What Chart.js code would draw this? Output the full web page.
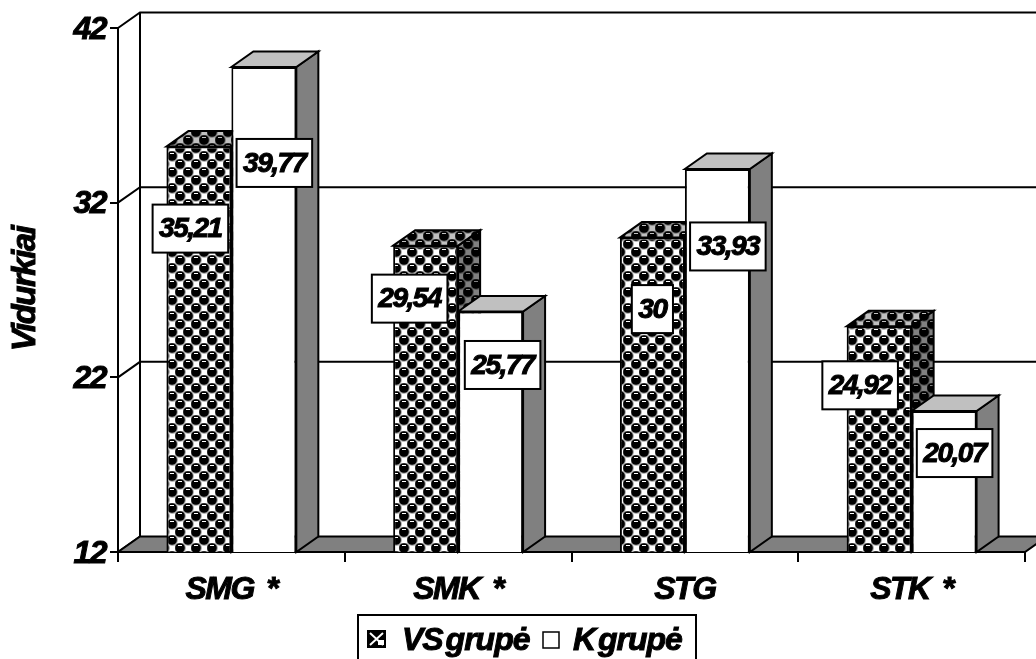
<!DOCTYPE html>
<html lang="lt">

<head>
  <meta charset="UTF-8">
  <title>Vidurkiai</title>
  <style>
    * {
      margin: 0;
      padding: 0;
    }

    body {
      background: white;
      overflow: hidden;
    }

    canvas {
      display: block;
    }
  </style>
</head>

<body>
  <canvas id="myChart" width="1036" height="659"></canvas>
  <script src="https://cdn.jsdelivr.net/npm/chart.js@4"></script>
  <script>
    const categories = ["SMG *", "SMK *", "STG", "STK *"];
    const seriesNames = ["VS grupė", "K grupė"];
    const vsValues = [35.21, 29.54, 30, 24.92];
    const kValues = [39.77, 25.77, 33.93, 20.07];
    const yMin = 12;
    const yMax = 42;
    const yStep = 10;
    const yTitle = "Vidurkiai";

    // hand placed value boxes, px from bar centre / bar top (one row per series)
    const boxShiftX = [[-8.5, -16, 0, -19], [10.5, 12, 10.5, 10.5]];
    const boxShiftY = [[82, 53, 71.5, 59], [96, 53.5, 77.5, 42]];

    const fontFamily = "'Liberation Sans', Arial, sans-serif";
    const depthX = 22;
    const depthY = 15.5;

    let ballPattern = () => {
      const tile = document.createElement("canvas");
      tile.width = 16;
      tile.height = 16;
      const c = tile.getContext("2d");
      c.fillStyle = "#fff";
      c.fillRect(0, 0, 16, 16);
      [[4, 4], [12, 12], [20, 4], [-4, 12], [4, 20], [12, -4]].forEach(([x, y]) => {
        c.fillStyle = "#999";
        c.beginPath();
        c.arc(x, y, 5.8, 0, Math.PI * 2);
        c.fill();
        c.fillStyle = "#000";
        c.beginPath();
        c.arc(x, y, 4.8, 0, Math.PI * 2);
        c.fill();
        c.fillStyle = "#fff";
        c.fillRect(x - 2, y - 3, 4, 1);
      });
      // white squares in the gaps
      c.fillStyle = "#fff";
      c.fillRect(10, 2, 5, 5);
      c.fillRect(2, 10, 5, 5);
      return tile;
    };

    const ctx = document.getElementById("myChart").getContext("2d");
    const pattern = ctx.createPattern(ballPattern(), "repeat");

    let poly = (c, pts, fill, tint) => {
      c.beginPath();
      pts.forEach((p, i) => (i ? c.lineTo(p[0], p[1]) : c.moveTo(p[0], p[1])));
      c.closePath();
      c.fillStyle = fill;
      c.fill();
      if (tint) {
        c.globalCompositeOperation = "multiply";
        c.fillStyle = tint;
        c.fill();
        c.globalCompositeOperation = "source-over";
      }
      c.stroke();
    };

    // canvas text with a thin outline, the reference type is very heavy
    let heavyText = (c, text, x, y) => {
      c.lineWidth = 1;
      c.strokeText(text, x, y);
      c.fillText(text, x, y);
    };

    const chart3d = {
      id: "chart3d",
      beforeDraw(chart) {
        chart.ctx.letterSpacing = "-1.5px";
        chart.ctx.wordSpacing = "5px";
      },
      beforeDatasetsDraw(chart) {
        const c = chart.ctx;
        const { left, right, top, bottom } = chart.chartArea;
        c.save();
        c.strokeStyle = "#000";
        c.lineWidth = 2;

        // back wall with gridlines
        chart.scales.y.ticks.forEach(t => {
          const y = chart.scales.y.getPixelForValue(t.value);
          c.beginPath();
          c.moveTo(left, y);
          c.lineTo(left + depthX, y - depthY);
          if (t.value > yMin) {
            c.lineTo(chart.width, y - depthY);
          }
          c.stroke();
        });
        c.beginPath();
        c.moveTo(left + depthX, top - depthY);
        c.lineTo(left + depthX, bottom - depthY);
        c.stroke();

        // floor
        poly(c, [[left, bottom], [right, bottom], [right + depthX, bottom - depthY], [left + depthX, bottom - depthY]], "#808080");

        // top and side faces, series by series so K tops lie over VS sides
        chart.data.datasets.forEach((ds, i) => {
          const isVs = i === 0;
          chart.getDatasetMeta(i).data.forEach(bar => {
            const x0 = bar.x - bar.width / 2;
            const x1 = bar.x + bar.width / 2;
            poly(c, [[x1, bar.y], [x1 + depthX, bar.y - depthY], [x1 + depthX, bottom - depthY], [x1, bottom]],
              isVs ? pattern : "#808080", isVs ? "#808080" : null);
            poly(c, [[x0, bar.y], [x0 + depthX, bar.y - depthY], [x1 + depthX, bar.y - depthY], [x1, bar.y]],
              isVs ? pattern : "#c0c0c0", isVs ? "#c0c0c0" : null);
          });
        });
        c.restore();
      },
      afterDatasetsDraw(chart) {
        const c = chart.ctx;
        c.save();
        c.font = `italic bold 28px ${fontFamily}`;
        c.textAlign = "center";
        c.textBaseline = "middle";
        c.strokeStyle = "#000";
        chart.data.datasets.forEach((ds, i) => {
          chart.getDatasetMeta(i).data.forEach((bar, j) => {
            const text = String(ds.data[j]).replace(".", ",");
            const w = c.measureText(text).width + 13;
            const cx = bar.x + boxShiftX[i][j];
            const cy = bar.y + boxShiftY[i][j];
            c.lineWidth = 2;
            c.fillStyle = "#fff";
            c.fillRect(cx - w / 2, cy - 24, w, 48);
            c.strokeRect(cx - w / 2, cy - 24, w, 48);
            c.fillStyle = "#000";
            heavyText(c, text, cx, cy + 1);
          });
        });

        // y title, drawn here so it can carry the same outline
        c.save();
        c.translate(35, 289);
        c.rotate(-Math.PI / 2);
        c.font = `italic bold 33px ${fontFamily}`;
        c.textBaseline = "alphabetic";
        heavyText(c, yTitle, 0, 0);
        c.restore();

        // legend box runs off the bottom of the picture
        c.lineWidth = 2;
        c.beginPath();
        c.moveTo(358, 659);
        c.lineTo(358, 615);
        c.lineTo(696, 615);
        c.lineTo(696, 659);
        c.stroke();
        c.fillStyle = "#000";
        c.fillRect(367, 630, 19, 18);
        c.strokeStyle = "#fff";
        c.beginPath();
        c.moveTo(370, 633);
        c.lineTo(383, 645);
        c.moveTo(383, 633);
        c.lineTo(370, 645);
        c.stroke();
        c.fillStyle = "#fff";
        c.fillRect(378, 640, 6, 5);
        c.strokeStyle = "#000";
        c.lineWidth = 1.5;
        c.strokeRect(543, 632, 16, 16);
        c.fillStyle = "#000";
        c.font = `italic bold 32px ${fontFamily}`;
        c.textAlign = "left";
        c.textBaseline = "alphabetic";
        c.letterSpacing = "-1px";
        c.wordSpacing = "-5px";
        heavyText(c, seriesNames[0], 402, 650);
        heavyText(c, seriesNames[1], 573, 650);
        c.restore();
      }
    };

    const config = {
      type: "bar",
      data: {
        labels: categories,
        datasets: [
          { label: seriesNames[0], data: vsValues, backgroundColor: pattern },
          { label: seriesNames[1], data: kValues, backgroundColor: "#fff" }
        ]
      },
      plugins: [chart3d],
      options: {
        responsive: false,
        animation: false,
        layout: { padding: { top: 28, right: 11 } },
        datasets: {
          bar: {
            categoryPercentage: 0.573,
            barPercentage: 1,
            borderColor: "#000",
            borderWidth: 2,
            borderSkipped: false
          }
        },
        plugins: {
          legend: { display: false },
          tooltip: { enabled: false }
        },
        scales: {
          x: {
            afterFit: s => { s.height = 107; },
            border: { color: "#000", width: 2 },
            grid: { drawOnChartArea: false, color: "#000", lineWidth: 2, tickLength: 10 },
            ticks: {
              color: "#000",
              padding: 9,
              maxRotation: 0,
              textStrokeColor: "#000",
              textStrokeWidth: 1,
              font: { family: fontFamily, size: 32, weight: "bold", style: "italic" }
            }
          },
          y: {
            min: yMin,
            max: yMax,
            afterFit: s => { s.width = 118; },
            border: { color: "#000", width: 2 },
            grid: { drawOnChartArea: false, color: "#000", lineWidth: 2, tickLength: 8 },
            ticks: {
              stepSize: yStep,
              color: "#000",
              padding: 4,
              labelOffset: 2,
              textStrokeColor: "#000",
              textStrokeWidth: 1,
              font: { family: fontFamily, size: 32, weight: "bold", style: "italic" }
            }
          }
        }
      }
    };

    const myChart = new Chart(ctx, config);
  </script>
</body>

</html>
